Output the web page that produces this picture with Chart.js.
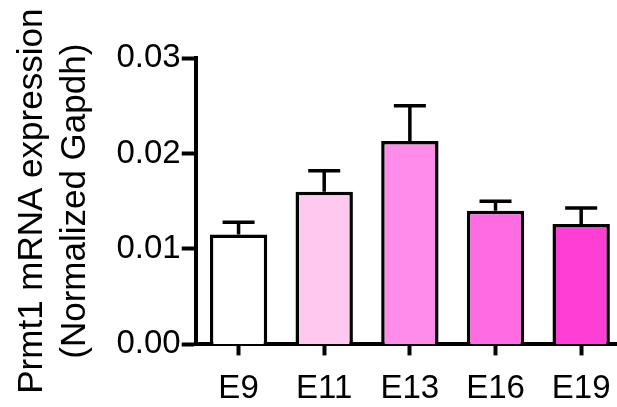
<!DOCTYPE html>
<html>
<head>
<meta charset="utf-8">
<script src="https://cdn.jsdelivr.net/npm/chart.js@4/dist/chart.umd.min.js"></script>
<style>
  html, body { margin: 0; padding: 0; background: #fff; overflow: hidden; }
  #wrap { width: 630px; height: 407px; }
</style>
</head>
<body>
<div id="wrap"><canvas id="prmt1-chart"></canvas></div>
<script>
const stages = ["E9", "E11", "E13", "E16", "E19"];
const means = [0.0115, 0.0160, 0.0213, 0.0140, 0.0126];
const sem = [0.0013, 0.0022, 0.0037, 0.0010, 0.0017];
const barColors = ["#FFFFFF", "#FFC9EF", "#FF8CEB", "#FF6BE2", "#FF3ED6"];
const yTicks = [0, 0.01, 0.02, 0.03];

const fontFamily = "'Liberation Sans', Arial, sans-serif";

// error bars (upper half only) drawn from the y scale
const errorBars = {
  id: "errorBars",
  afterDatasetsDraw(chart) {
    const c = chart.ctx;
    const meta = chart.getDatasetMeta(0);
    const y = chart.scales.y;
    c.save();
    c.strokeStyle = "#000";
    c.lineWidth = 3.5;
    c.lineCap = "butt";
    meta.data.forEach((bar, i) => {
      const top = y.getPixelForValue(means[i] + sem[i]);
      const base = y.getPixelForValue(means[i]);
      c.beginPath();
      c.moveTo(bar.x, base);
      c.lineTo(bar.x, top);
      c.moveTo(bar.x - 16, top);
      c.lineTo(bar.x + 16, top);
      c.stroke();
    });
    c.restore();
  },
};

const ctx = document.getElementById("prmt1-chart").getContext("2d");

new Chart(ctx, {
  type: "bar",
  data: {
    labels: stages,
    datasets: [
      {
        data: means,
        backgroundColor: barColors,
        borderColor: "#000",
        borderWidth: 3.5,
        borderSkipped: "bottom",
        barPercentage: 0.67,
        categoryPercentage: 1,
      },
    ],
  },
  options: {
    responsive: true,
    maintainAspectRatio: false,
    animation: false,
    layout: {
      padding: { top: 58, right: 6, bottom: -16, left: 10 },
    },
    plugins: {
      legend: { display: false },
      tooltip: { enabled: false },
    },
    scales: {
      x: {
        grid: {
          offset: false,
          drawOnChartArea: false,
          drawTicks: true,
          tickLength: 11,
          tickWidth: 4,
          tickColor: "#000",
        },
        border: { color: "#000", width: 4 },
        ticks: {
          color: "#000",
          font: { family: fontFamily, size: 33 },
          padding: 14,
          maxRotation: 0,
        },
      },
      y: {
        min: 0,
        max: 0.03,
        afterBuildTicks(scale) {
          scale.ticks = yTicks.map((v) => ({ value: v }));
        },
        grid: {
          drawOnChartArea: false,
          tickLength: 14,
          tickWidth: 4,
          tickColor: "#000",
        },
        border: { color: "#000", width: 4 },
        ticks: {
          color: "#000",
          padding: 1,
          font: { family: fontFamily, size: 33 },
          callback: (v) => v.toFixed(2),
        },
        title: {
          display: true,
          text: ["Prmt1 mRNA expression", "(Normalized Gapdh)"],
          color: "#000",
          font: { family: fontFamily, size: 35, lineHeight: 1.25 },
          padding: { top: 0, bottom: 18 },
        },
      },
    },
  },
  plugins: [errorBars],
});
</script>
</body>
</html>
